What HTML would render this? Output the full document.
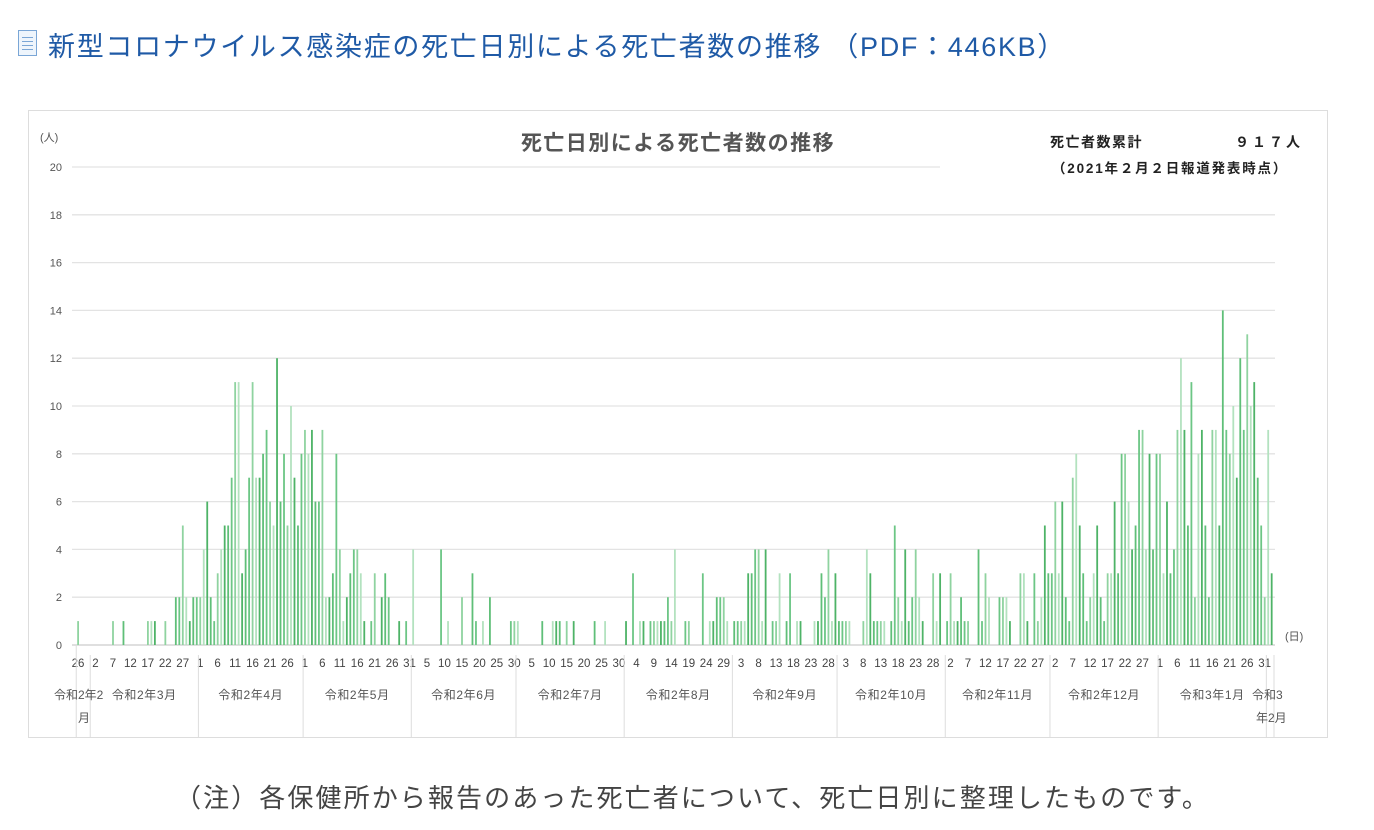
<!DOCTYPE html>
<html><head><meta charset="utf-8"><style>
body{margin:0;width:1374px;height:830px;background:#fff;font-family:"Liberation Sans","Noto Sans CJK JP",sans-serif;overflow:hidden;position:relative}
.hdr{position:absolute;left:48px;top:25px;font-size:27px;letter-spacing:1.7px;color:#1f5aa6;white-space:nowrap}
.icon{position:absolute;left:18px;top:30px;width:17px;height:24px;border:1px solid #7aa6d6;background:#eef5fc}
.icon i{position:absolute;left:3px;right:3px;height:1px;background:#7aa6d6}
.foot{position:absolute;left:175px;top:778px;font-size:26px;letter-spacing:2.1px;color:#444;white-space:nowrap}
</style></head><body>
<div class="icon"><i style="top:6px"></i><i style="top:10px"></i><i style="top:14px"></i><i style="top:18px"></i></div>
<div class="hdr">新型コロナウイルス感染症の死亡日別による死亡者数の推移 （PDF：446KB）</div>
<svg id="c" width="1374" height="830" style="position:absolute;left:0;top:0" xmlns="http://www.w3.org/2000/svg"></svg>
<div class="foot">（注）各保健所から報告のあった死亡者について、死亡日別に整理したものです。</div>
<script>
var d=[1,0,0,0,
0,0,0,0,0,0,1,0,0,1,0,0,0,0,0,0,1,1,1,0,0,1,0,0,2,2,5,2,1,2,2,
2,4,6,2,1,3,4,5,5,7,11,11,3,4,7,11,7,7,8,9,6,5,12,6,8,5,10,7,5,8,
9,8,9,6,6,9,2,2,3,8,4,1,2,3,4,4,3,1,0,1,3,0,2,3,2,0,0,1,0,1,0,
4,0,0,0,0,0,0,0,4,0,1,0,0,0,2,0,0,3,1,0,1,0,2,0,0,0,0,0,1,1,
1,0,0,0,0,0,0,1,0,0,1,1,1,0,1,0,1,0,0,0,0,0,1,0,0,1,0,0,0,0,0,
1,0,3,0,1,1,0,1,1,1,1,1,2,1,4,0,0,1,1,0,0,0,3,0,1,1,2,2,2,1,0,
1,1,1,1,3,3,4,4,1,4,0,1,1,3,0,1,3,0,1,1,0,0,0,1,1,3,2,4,1,3,
1,1,1,1,0,0,0,1,4,3,1,1,1,1,0,1,5,2,1,4,1,2,4,2,1,0,0,3,1,3,0,
1,3,1,1,2,1,1,0,0,4,1,3,2,0,0,2,2,2,1,0,0,3,3,1,0,3,1,2,5,3,
3,6,3,6,2,1,7,8,5,3,1,2,3,5,2,1,3,3,6,3,8,8,6,4,5,9,9,4,8,4,8,
8,3,6,3,4,9,12,9,5,11,2,8,9,5,2,9,9,5,14,9,8,10,7,12,9,13,10,11,7,5,2,9,3];
var s='',X0=78,dx=3.49,Y0=645,k=23.9;
s+='<rect x="28.5" y="110.5" width="1299" height="627" fill="none" stroke="#ddd"/>';
for(var g=0;g<=20;g+=2){var y=Y0-g*k;var xe=g==20?940:1275;
s+='<line x1="72" x2="'+xe+'" y1="'+y+'" y2="'+y+'" stroke="'+(g==0?'#ccc':'#e3e3e3')+'" stroke-width="1.3"/>';
s+='<text x="62" y="'+(y+4)+'" font-size="11" fill="#555" text-anchor="end">'+g+'</text>';}
s+='<text x="40" y="141" font-size="11" fill="#555">(人)</text><text x="1285" y="640" font-size="11" fill="#555">(日)</text>';
var cols=['#8fd3a0','#5fbf78','#b3e2bf','#6cc685','#4eb367'];
for(var i=0;i<d.length;i++){if(!d[i])continue;var x=X0+i*dx;
s+='<rect x="'+(x-0.8)+'" y="'+(Y0-d[i]*k)+'" width="1.8" height="'+(d[i]*k)+'" fill="'+cols[(i*7)%5]+'"/>';}
var ms=[0,4,35,65,96,126,157,188,218,249,279,310,341,342];
var dates=[];var mlen=[29,31,30,31,30,31,31,30,31,30,31,31,28];var m=0,day=26;
for(var i=0;i<342;i++){dates.push(day);day++;if(day>mlen[m]){day=1;m++;}}
for(var i=0;i<342;i+=5){s+='<text x="'+(X0+i*dx)+'" y="667" font-size="11.5" fill="#444" text-anchor="middle">'+dates[i]+'</text>';}
for(var j=0;j<ms.length;j++){var bx=X0+(ms[j]-0.5)*dx;if(j==ms.length-1)bx=1274;
s+='<line x1="'+bx+'" x2="'+bx+'" y1="'+(j==0?645:655)+'" y2="738" stroke="#ddd"/>';}
var names=['令和2年3月','令和2年4月','令和2年5月','令和2年6月','令和2年7月','令和2年8月','令和2年9月','令和2年10月','令和2年11月','令和2年12月','令和3年1月'];
for(var j=0;j<names.length;j++){var cx=X0+((ms[j+1]+ms[j+2])/2-0.5)*dx;
s+='<text x="'+cx+'" y="699" font-size="12" letter-spacing="0.6" fill="#555" text-anchor="middle">'+names[j]+'</text>';}
s+='<text x="54" y="699" font-size="12" fill="#555">令和2年2</text><text x="78" y="722" font-size="12" fill="#555">月</text>';
s+='<text x="1252" y="699" font-size="12" fill="#555">令和3</text><text x="1256" y="722" font-size="12" fill="#555">年2月</text>';
s+='<text x="678" y="150" font-size="21" letter-spacing="1.5" font-weight="bold" fill="#555" text-anchor="middle">死亡日別による死亡者数の推移</text>';
s+='<text x="1050" y="147" font-size="14" letter-spacing="1.5" font-weight="bold" fill="#222">死亡者数累計</text>';
s+='<text x="1235" y="147" font-size="14" letter-spacing="3" font-weight="bold" fill="#222">９１７人</text>';
s+='<text x="1052" y="173" font-size="13.5" letter-spacing="1.8" font-weight="bold" fill="#222">（2021年２月２日報道発表時点）</text>';
document.getElementById('c').innerHTML=s;
</script>
</body></html>
